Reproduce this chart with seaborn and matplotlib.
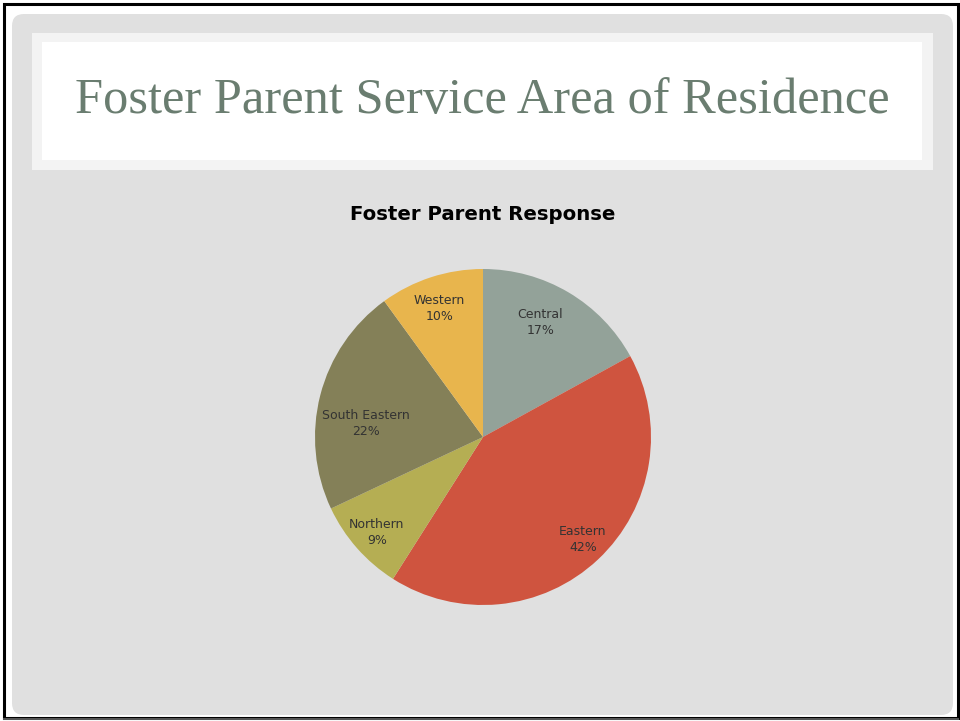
import matplotlib
matplotlib.use("Agg")
import matplotlib.pyplot as plt
from matplotlib.patches import FancyBboxPatch, Rectangle
import seaborn as sns
import numpy as np

# ---- data ----
categories = ["Central", "Eastern", "Northern", "South Eastern", "Western"]
values = [17, 42, 9, 22, 10]
slide_title = "Foster Parent Service Area of Residence"
chart_title = "Foster Parent Response"

# ---- style ----
colors = ["#93a299", "#cf543f", "#b5ae53", "#848058", "#e8b54d"]
label_dist = [0.76, 0.85, 0.85, 0.70, 0.81]
label_turn = [4.0, 1.2, 0.5, 7.6, 0.8]   # degrees off the wedge bisector

sns.set_theme(style="white")
plt.rcParams["font.family"] = ["DejaVu Sans"]

W, H = 960, 721
fig = plt.figure(figsize=(W / 100, H / 100), dpi=100)
fig.patch.set_facecolor("white")

bg = fig.add_axes([0, 0, 1, 1])
bg.set_xlim(0, W)
bg.set_ylim(H, 0)
bg.axis("off")

# outer black frame
bg.add_patch(Rectangle((4, 4), W - 6, H - 7, fill=False, edgecolor="black", lw=2.2))
bg.add_patch(Rectangle((3, H - 3), W - 4, 2, facecolor="#555555", edgecolor="none"))
# gray rounded panel
bg.add_patch(FancyBboxPatch((12, 14), 941, 701, boxstyle="round,pad=0,rounding_size=12",
                            facecolor="#e0e0e0", edgecolor="none"))
# title box
bg.add_patch(Rectangle((32, 33), 901, 137, facecolor="#f3f3f3", edgecolor="none"))
bg.add_patch(Rectangle((42, 42), 880, 118, facecolor="white", edgecolor="none"))
bg.text(482, 101, slide_title, ha="center", va="center", fontsize=36.4,
        family="Liberation Serif", color="#6a7d70")
bg.text(483, 214, chart_title, ha="center", va="center", fontsize=14.2,
        fontweight="bold", color="black", family="DejaVu Sans")

# pie axes, radius 168 px centered at (483, 437)
R = 168
half = 180
cx, cy = 483, H - 437
ax = fig.add_axes([(cx - half) / W, (cy - half) / H, 2 * half / W, 2 * half / H])

wedges, _ = ax.pie(values, colors=colors, startangle=90, counterclock=False,
                   wedgeprops=dict(linewidth=0))
ax.set_xlim(-half / R, half / R)
ax.set_ylim(-half / R, half / R)
ax.axis("off")
for w, cat, v, d, t in zip(wedges, categories, values, label_dist, label_turn):
    ang = np.deg2rad((w.theta1 + w.theta2) / 2 + t)
    ax.text(d * np.cos(ang), d * np.sin(ang), f"{cat}\n{v}%", ha="center", va="center",
            fontsize=9, color="#333333", linespacing=1.3)

fig.savefig("out.png", dpi=100)
